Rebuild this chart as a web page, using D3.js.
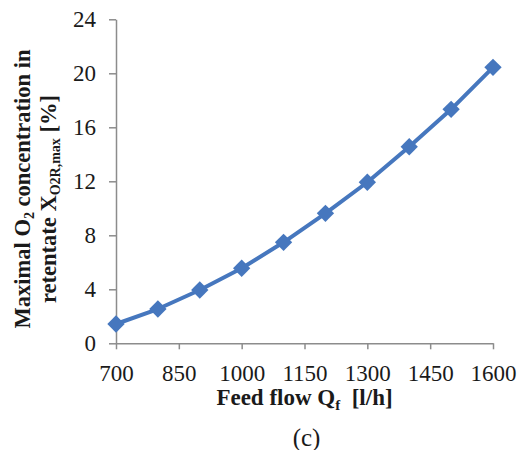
<!DOCTYPE html>
<html>
<head>
<meta charset="utf-8">
<script src="https://cdn.jsdelivr.net/npm/d3@7"></script>
<style>
  html, body { margin: 0; padding: 0; background: #ffffff; }
  svg { display: block; font-family: "Liberation Serif", "Times New Roman", serif; }
</style>
</head>
<body>
<svg id="chart" width="519" height="450"></svg>
<script>
const feedFlow = [700, 800, 900, 1000, 1100, 1200, 1300, 1400, 1500, 1600];
const o2Max = [1.43, 2.54, 3.95, 5.56, 7.48, 9.63, 11.93, 14.56, 17.33, 20.44];
const xTicks = [700, 850, 1000, 1150, 1300, 1450, 1600];
const yTicks = [0, 4, 8, 12, 16, 20, 24];

const svg = d3.select("#chart");
const margin = { left: 116, right: 26, top: 19.3, bottom: 106.7 };
const W = 519, H = 450;

const x = d3.scaleLinear().domain([700, 1600]).range([margin.left, W - margin.right]);
const y = d3.scaleLinear().domain([0, 24]).range([H - margin.bottom, margin.top]);

const axisColor = "#8c8c8c";
const lineColor = "#4677be";
const textColor = "#1a1a1a";

// Y axis
const yAxis = svg.append("g")
  .attr("transform", `translate(${margin.left},0)`)
  .call(d3.axisLeft(y).tickValues(yTicks).tickFormat(d3.format("d"))
    .tickSize(7).tickPadding(13).tickSizeOuter(0));
// X axis
const xAxis = svg.append("g")
  .attr("transform", `translate(0,${y(0)})`)
  .call(d3.axisBottom(x).tickValues(xTicks).tickFormat(d3.format("d"))
    .tickSize(6).tickPadding(15).tickSizeOuter(0));

[yAxis, xAxis].forEach(g => {
  g.selectAll("path.domain").attr("stroke", axisColor).attr("stroke-width", 1.5);
  g.selectAll(".tick line").attr("stroke", axisColor).attr("stroke-width", 1.5);
  g.selectAll(".tick text")
    .attr("fill", textColor)
    .style("font-family", "'Liberation Serif', 'Times New Roman', serif")
    .style("font-size", "23px");
});

// Line
const pts = feedFlow.map((f, i) => [f, o2Max[i]]);
svg.append("path")
  .datum(pts)
  .attr("fill", "none")
  .attr("stroke", lineColor)
  .attr("stroke-width", 4)
  .attr("stroke-linejoin", "round")
  .attr("d", d3.line().x(d => x(d[0])).y(d => y(d[1])));

// Diamond markers (rotated squares)
svg.append("g").selectAll("path")
  .data(pts)
  .join("path")
  .attr("transform", d => `translate(${x(d[0])},${y(d[1])}) rotate(45)`)
  .attr("d", d3.symbol().type(d3.symbolSquare).size(150))
  .attr("fill", lineColor);

// X axis title
const xt = svg.append("text")
  .attr("x", (x(700) + x(1600)) / 2)
  .attr("y", 405)
  .attr("text-anchor", "middle")
  .attr("font-weight", "bold")
  .attr("font-size", 23)
  .attr("fill", textColor);
xt.append("tspan").text("Feed flow Q");
xt.append("tspan").attr("font-size", 15).attr("dy", 5).text("f");
xt.append("tspan").attr("dy", -5).text("\u00a0 [l/h]");

// Panel label
svg.append("text")
  .attr("x", (x(700) + x(1600)) / 2 + 2)
  .attr("y", 446)
  .attr("text-anchor", "middle")
  .attr("font-size", 25)
  .attr("fill", textColor)
  .text("(c)");

// Y axis title (two lines, rotated)
const yt1 = svg.append("text")
  .attr("transform", "translate(30,189) rotate(-90)")
  .attr("text-anchor", "middle")
  .attr("font-weight", "bold")
  .attr("font-size", 22.5)
  .attr("fill", textColor);
yt1.append("tspan").text("Maximal O");
yt1.append("tspan").attr("font-size", 14).attr("dy", 4).text("2");
yt1.append("tspan").attr("dy", -4).text(" concentration in");

const yt2 = svg.append("text")
  .attr("transform", "translate(56,199) rotate(-90)")
  .attr("text-anchor", "middle")
  .attr("font-weight", "bold")
  .attr("font-size", 22.5)
  .attr("fill", textColor);
yt2.append("tspan").text("retentate X");
yt2.append("tspan").attr("font-size", 14).attr("dy", 4).text("O2R,max");
yt2.append("tspan").attr("dy", -4).text(" [%]");
</script>
</body>
</html>
